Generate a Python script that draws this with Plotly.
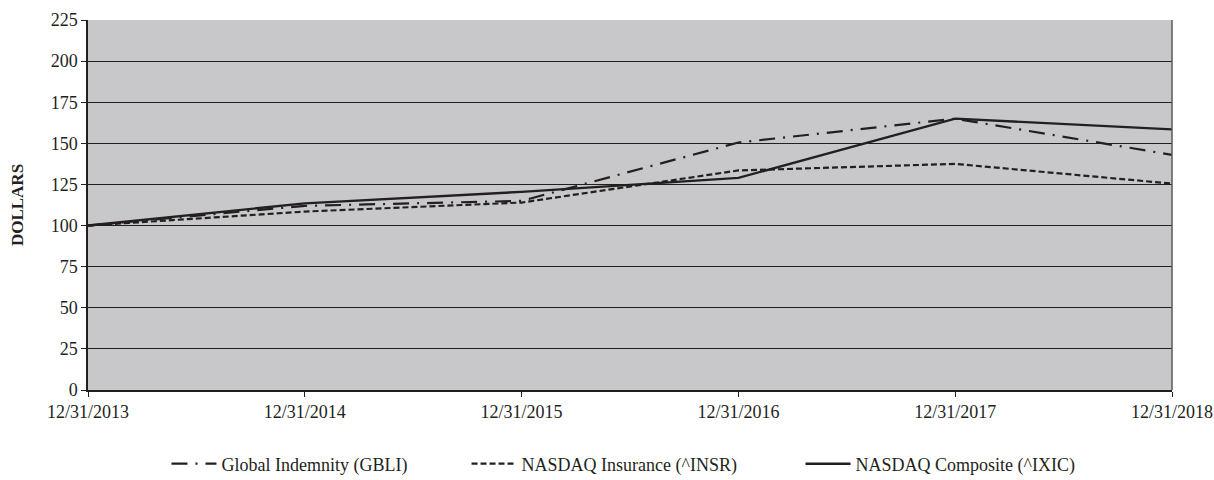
import plotly.graph_objects as go

dates = ["12/31/2013", "12/31/2014", "12/31/2015", "12/31/2016", "12/31/2017", "12/31/2018"]
gbli = [100, 112, 115, 150.5, 165, 143]
insr = [100, 108.5, 114, 133.5, 137.5, 125.5]
ixic = [100, 113.5, 120.5, 129, 165, 158.5]

xpos = list(range(len(dates)))
font_family = "Liberation Serif"
ink = "#231f20"

fig = go.Figure()
fig.add_trace(go.Scatter(x=xpos, y=gbli, mode="lines", name="Global Indemnity (GBLI)",
                         legend="legend",
                         line=dict(color=ink, width=2.2, dash="16px,8px,2px,8px")))
fig.add_trace(go.Scatter(x=xpos, y=insr, mode="lines", name="NASDAQ Insurance (^INSR)",
                         legend="legend2",
                         line=dict(color=ink, width=2.2, dash="6px,3px")))
fig.add_trace(go.Scatter(x=xpos, y=ixic, mode="lines", name="NASDAQ Composite (^IXIC)",
                         legend="legend3",
                         line=dict(color=ink, width=2.4)))

legend_common = dict(orientation="h", xanchor="left", y=-0.2, yanchor="middle",
                     itemwidth=45, font=dict(family=font_family, size=18, color=ink),
                     bgcolor="rgba(0,0,0,0)")

fig.update_layout(
    width=1214, height=480,
    margin=dict(l=88, r=42, t=20, b=90, autoexpand=False),
    paper_bgcolor="white", plot_bgcolor="#c8c8ca",
    font=dict(family=font_family, size=18, color=ink),
    showlegend=True,
    legend=dict(x=0.0724, **legend_common),
    legend2=dict(x=0.3492, **legend_common),
    legend3=dict(x=0.6573, **legend_common),
)
fig.update_xaxes(range=[0, 5], tickmode="array", tickvals=xpos, ticktext=dates,
                 showgrid=False, zeroline=False, showline=True, linecolor=ink,
                 linewidth=1.5, ticks="outside", ticklen=5, automargin=False,
                 tickcolor=ink, tickfont=dict(family=font_family, size=18, color=ink))
fig.update_yaxes(range=[0, 225], tickmode="linear", tick0=0, dtick=25,
                 showgrid=True, gridcolor=ink, gridwidth=1.2, zeroline=False,
                 showline=True, linecolor=ink, linewidth=1.5, automargin=False,
                 ticks="outside", ticklen=5, tickcolor=ink,
                 title=dict(text="<b>DOLLARS</b>", font=dict(family=font_family, size=17, color=ink),
                            standoff=23),
                 tickfont=dict(family=font_family, size=18, color=ink))
# right border of plot area
fig.add_shape(type="line", xref="paper", yref="paper", x0=1, x1=1, y0=0, y1=1,
              line=dict(color="#5a5a5a", width=1.5))

fig.write_html("out.html", config={"displayModeBar": False},
               post_script="document.body.style.margin='0px';")
